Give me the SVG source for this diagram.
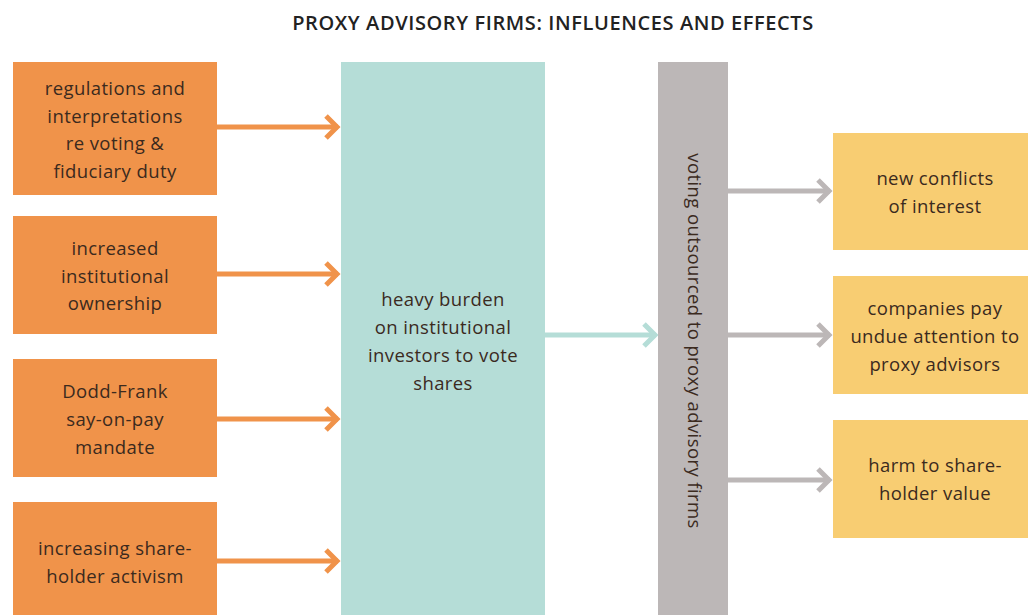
<svg xmlns="http://www.w3.org/2000/svg" width="1028" height="615" viewBox="0 0 1028 615">
<style>
.t{font-family:"Open Sans","Liberation Sans",sans-serif;font-size:18.5px;letter-spacing:0.4px;fill:#3b2a1e;text-anchor:middle}
.title{font-family:"Open Sans","Liberation Sans",sans-serif;font-size:20px;font-weight:600;fill:#222;text-anchor:middle;letter-spacing:0.6px}
.o{fill:#f0934a}
.y{fill:#f8cd72}
.c{fill:none;stroke-width:5}
</style>
<defs>
<marker id="ao" markerUnits="userSpaceOnUse" markerWidth="30" markerHeight="30" refX="20" refY="15" orient="auto"><polyline points="8,4 19,15 8,26" fill="none" stroke="#f0934a" stroke-width="5"/></marker>
<marker id="at" markerUnits="userSpaceOnUse" markerWidth="30" markerHeight="30" refX="20" refY="15" orient="auto"><polyline points="8,4 19,15 8,26" fill="none" stroke="#b5ddd7" stroke-width="5"/></marker>
<marker id="ag" markerUnits="userSpaceOnUse" markerWidth="30" markerHeight="30" refX="20" refY="15" orient="auto"><polyline points="8,4 19,15 8,26" fill="none" stroke="#bcb7b7" stroke-width="5"/></marker>
</defs>
<rect width="1028" height="615" fill="#fff"/>
<text class="title" x="553" y="30">PROXY ADVISORY FIRMS: INFLUENCES AND EFFECTS</text>
<g id="connectors">
<line class="c" x1="217" y1="127" x2="338" y2="127" stroke="#f0934a" marker-end="url(#ao)"/>
<line class="c" x1="217" y1="274" x2="338" y2="274" stroke="#f0934a" marker-end="url(#ao)"/>
<line class="c" x1="217" y1="419" x2="338" y2="419" stroke="#f0934a" marker-end="url(#ao)"/>
<line class="c" x1="217" y1="561" x2="338" y2="561" stroke="#f0934a" marker-end="url(#ao)"/>
<line class="c" x1="545" y1="335" x2="656" y2="335" stroke="#b5ddd7" marker-end="url(#at)"/>
<line class="c" x1="728" y1="191" x2="830" y2="191" stroke="#bcb7b7" marker-end="url(#ag)"/>
<line class="c" x1="728" y1="335" x2="830" y2="335" stroke="#bcb7b7" marker-end="url(#ag)"/>
<line class="c" x1="728" y1="480" x2="830" y2="480" stroke="#bcb7b7" marker-end="url(#ag)"/>
</g>
<g id="n1"><rect class="o" x="13" y="62" width="204" height="133"/>
<text class="t" x="115" y="95">regulations and</text><text class="t" x="115" y="123">interpretations</text><text class="t" x="115" y="150">re voting &amp;</text><text class="t" x="115" y="178">fiduciary duty</text></g>
<g id="n2"><rect class="o" x="13" y="216" width="204" height="118"/>
<text class="t" x="115" y="255">increased</text><text class="t" x="115" y="283">institutional</text><text class="t" x="115" y="310">ownership</text></g>
<g id="n3"><rect class="o" x="13" y="359" width="204" height="118"/>
<text class="t" x="115" y="398">Dodd-Frank</text><text class="t" x="115" y="426">say-on-pay</text><text class="t" x="115" y="454">mandate</text></g>
<g id="n4"><rect class="o" x="13" y="502" width="204" height="113"/>
<text class="t" x="115" y="555">increasing share-</text><text class="t" x="115" y="583">holder activism</text></g>
<g id="n5"><rect x="341" y="62" width="204" height="553" fill="#b5ddd7"/>
<text class="t" x="443" y="306">heavy burden</text><text class="t" x="443" y="334">on institutional</text><text class="t" x="443" y="362">investors to vote</text><text class="t" x="443" y="390">shares</text></g>
<g id="n6"><rect x="658" y="62" width="70" height="553" fill="#bcb7b7"/>
<text class="t" transform="translate(688 341) rotate(90)">voting outsourced to proxy advisory firms</text></g>
<g id="n7"><rect class="y" x="833" y="133" width="195" height="117"/>
<text class="t" x="935" y="185">new conflicts</text><text class="t" x="935" y="213">of interest</text></g>
<g id="n8"><rect class="y" x="833" y="276" width="195" height="118"/>
<text class="t" x="935" y="315">companies pay</text><text class="t" x="935" y="343">undue attention to</text><text class="t" x="935" y="371">proxy advisors</text></g>
<g id="n9"><rect class="y" x="833" y="420" width="195" height="118"/>
<text class="t" x="935" y="472">harm to share-</text><text class="t" x="935" y="500">holder value</text></g>
</svg>
